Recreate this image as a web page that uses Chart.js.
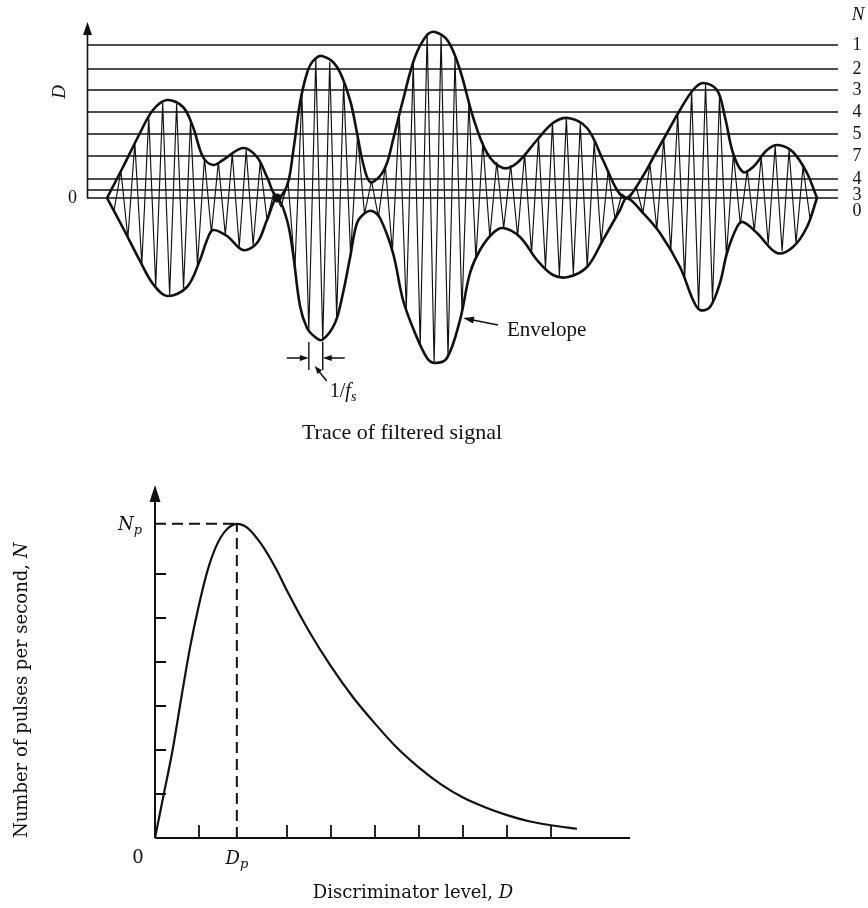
<!DOCTYPE html>
<html>
<head>
<meta charset="utf-8">
<script src="https://cdn.jsdelivr.net/npm/chart.js@4.4.1/dist/chart.umd.min.js"></script>
<style>
  html, body { margin: 0; padding: 0; background: #fff; }
  .wrap { position: absolute; left: 0; width: 868px; }
  #top-wrap { top: 0; height: 460px; }
  #bot-wrap { top: 460px; height: 448px; }
</style>
</head>
<body>
<div class="wrap" id="top-wrap"><canvas id="trace"></canvas></div>
<div class="wrap" id="bot-wrap"><canvas id="pulses"></canvas></div>
<script>
// ---- top: trace of filtered signal (t in carrier half-periods, D arbitrary units)
const T_MIN = -2.874
const T_MAX = 105.03
const D_MIN = -175
const D_MAX = 178
const AXIS_TOP = 176

const levelD = [153, 129, 108, 86, 64, 42, 19, 8, 0]
const levelN = ['1', '2', '3', '4', '5', '7', '4', '3', '0']

// carrier vertices, one per half period, alternating top / bottom of envelope
const carrier = [
  0, -13, 27, -40, 55, -66, 81, -88, 95, -97,
  94, -90, 76, -67, 40, -35, 36, -37, 44, -49,
  48, -47, 35, -22, 6, -9, 17, -70, 103, -132,
  139, -142, 136, -119, 114, -57, 62, -16, 17, -19,
  32, -53, 83, -111, 135, -147, 165, -165, 162, -159,
  140, -113, 96, -61, 56, -39, 36, -30, 33, -38,
  44, -55, 60, -70, 75, -78, 80, -76, 74, -69,
  56, -45, 27, -21, 4, -2, 12, -15, 34, -31,
  59, -53, 84, -81, 106, -110, 114, -103, 100, -58,
  44, -26, 28, -33, 41, -46, 52, -53, 48, -45,
  31, -20, 0
]

const upperT = [0, 2.30, 4.74, 6.61, 8.62, 10.92, 12.36, 13.79, 15.23, 16.67, 19.54, 21.55, 22.99, 24.43,
  25.86, 26.72, 27.73, 28.74, 29.60, 30.89, 33.05, 34.91, 35.92, 36.78, 37.79, 39.22, 40.23, 41.09,
  42.53, 44.25, 45.98, 47.13, 48.99, 50.72, 52.59, 54.60, 56.90, 58.91, 61.78, 64.08, 66.24, 68.97,
  71.26, 73.28, 74.71, 77.01, 78.45, 80.46, 82.33, 84.20, 85.63, 87.64, 88.79, 89.94, 91.38, 92.82,
  94.83, 96.41, 98.56, 100.57, 102.01]
const upperD = [0, 31, 65, 88, 98, 91, 71, 41, 33, 38, 50, 41, 21, 0,
  12, 45, 95, 125, 137, 142, 131, 98, 65, 35, 16, 22, 35, 58,
  98, 141, 163, 166, 157, 128, 81, 45, 30, 35, 58, 75, 80, 70,
  38, 8, 0, 22, 40, 65, 88, 108, 115, 108, 81, 45, 26, 31,
  48, 53, 46, 25, 0]

const lowerT = [0, 2.30, 4.74, 6.61, 8.62, 11.49, 13.36, 14.37, 15.23, 17.24, 19.54, 21.55, 22.99, 24.43,
  25.86, 26.72, 27.73, 28.74, 29.89, 30.89, 32.76, 33.91, 34.91, 35.92, 37.07, 38.07, 39.22, 41.09,
  42.53, 44.25, 45.98, 47.13, 48.85, 50.72, 52.16, 53.59, 55.46, 56.90, 59.34, 61.78, 64.08, 66.24,
  68.97, 71.26, 73.71, 74.71, 77.01, 79.45, 82.33, 84.20, 85.20, 86.64, 88.07, 89.08, 90.52, 91.38,
  93.39, 96.26, 98.56, 100.57, 102.01]
const lowerD = [0, -30, -63, -86, -98, -89, -62, -42, -32, -38, -52, -45, -22, 0,
  -22, -55, -108, -130, -139, -142, -125, -95, -60, -25, -15, -13, -20, -55,
  -102, -135, -160, -165, -160, -122, -75, -52, -35, -30, -39, -62, -77, -79,
  -69, -42, -12, 0, -15, -35, -69, -102, -112, -109, -85, -55, -29, -24,
  -35, -55, -49, -29, 0]

const nodeT = 24.43
const envelopeTipT = 51.15
const envelopeTipD = -120
const sampleMarks = [29, 31]

// ---- bottom: pulse rate versus discriminator level
const curveD = [0, 0.2, 0.4, 0.6, 0.8, 1.0, 1.2, 1.4, 1.6, 1.86, 2.1, 2.4, 2.75, 3.0, 3.5, 4.0, 4.5, 5.0, 5.5, 6.0, 6.5, 7.0, 7.5, 8.0, 8.5, 9.0, 9.59]
const curveN = [0, 1.0, 2.0, 3.2, 4.35, 5.3, 6.1, 6.65, 6.98, 7.14, 7.05, 6.7, 6.12, 5.62, 4.7, 3.9, 3.2, 2.6, 2.05, 1.6, 1.22, 0.92, 0.7, 0.52, 0.38, 0.29, 0.21]
const peakD = 1.86
const peakN = 7.14
const xTicks = [1, 3, 4, 5, 6, 7, 8, 9]
const yTicks = [1, 2, 3, 4, 5, 6]

const ink = '#111'
const SERIF = '"Liberation Serif", "DejaVu Serif", serif'
const SERIF2 = '"DejaVu Serif", "Liberation Serif", serif'

function arrowHead(ctx, x1, y1, x2, y2, len, half) {
  const a = Math.atan2(y2 - y1, x2 - x1)
  ctx.beginPath()
  ctx.moveTo(x2, y2)
  ctx.lineTo(x2 - len * Math.cos(a) + half * Math.sin(a), y2 - len * Math.sin(a) - half * Math.cos(a))
  ctx.lineTo(x2 - len * Math.cos(a) - half * Math.sin(a), y2 - len * Math.sin(a) + half * Math.cos(a))
  ctx.closePath()
  ctx.fill()
}

function subText(ctx, main, sub, x, y, size, align, family) {
  ctx.font = `italic ${size}px ${family}`
  const w1 = ctx.measureText(main).width
  ctx.font = `italic ${Math.round(size * 0.72)}px ${family}`
  const w2 = ctx.measureText(sub).width
  let x0 = x
  if (align === 'center') x0 = x - (w1 + w2) / 2
  if (align === 'right') x0 = x - (w1 + w2)
  ctx.textAlign = 'left'
  ctx.textBaseline = 'alphabetic'
  ctx.font = `italic ${size}px ${family}`
  ctx.fillText(main, x0, y)
  ctx.font = `italic ${Math.round(size * 0.72)}px ${family}`
  ctx.fillText(sub, x0 + w1, y + size * 0.22)
}

const traceDeco = {
  id: 'traceDeco',
  afterDraw(chart) {
    const { ctx, scales: { x, y } } = chart
    ctx.save()
    ctx.strokeStyle = ink
    ctx.fillStyle = ink

    // D axis
    const ax = x.getPixelForValue(T_MIN) + 0.5
    const y0 = y.getPixelForValue(0)
    const yTop = y.getPixelForValue(AXIS_TOP)
    ctx.lineWidth = 1.6
    ctx.beginPath(); ctx.moveTo(ax, y0); ctx.lineTo(ax, yTop + 8); ctx.stroke()
    arrowHead(ctx, ax, y0, ax, yTop, 13, 4.5)

    // N labels on the right
    ctx.font = `18px ${SERIF}`
    ctx.textAlign = 'center'
    ctx.textBaseline = 'middle'
    let prev = -Infinity
    levelD.forEach((d, i) => {
      const py = Math.max(y.getPixelForValue(d), prev + 16)
      prev = py
      ctx.fillText(levelN[i], 857, py)
    })
    ctx.font = `italic 19px ${SERIF}`
    ctx.fillText('N', 858, 15)

    ctx.font = `18px ${SERIF}`
    ctx.textAlign = 'right'
    ctx.fillText('0', 77, y0)

    ctx.save()
    ctx.translate(60, 92)
    ctx.rotate(-Math.PI / 2)
    ctx.font = `italic 19px ${SERIF}`
    ctx.textAlign = 'center'
    ctx.fillText('D', 0, 0)
    ctx.restore()

    // Envelope pointer
    const tx = x.getPixelForValue(envelopeTipT), ty = y.getPixelForValue(envelopeTipD)
    ctx.lineWidth = 1.6
    ctx.beginPath(); ctx.moveTo(tx + 35, ty + 7); ctx.lineTo(tx + 6, ty + 1.2); ctx.stroke()
    arrowHead(ctx, tx + 35, ty + 7, tx, ty, 11, 3.5)
    ctx.font = `21px ${SERIF}`
    ctx.textAlign = 'left'
    ctx.textBaseline = 'middle'
    ctx.fillText('Envelope', tx + 44, ty + 12)

    // 1/fs sample spacing
    const mx1 = x.getPixelForValue(sampleMarks[0]), mx2 = x.getPixelForValue(sampleMarks[1])
    const mTop = y.getPixelForValue(-144), mBot = y.getPixelForValue(-172), mMid = y.getPixelForValue(-160)
    ctx.lineWidth = 1.4
    ctx.beginPath()
    ctx.moveTo(mx1, mTop); ctx.lineTo(mx1, mBot)
    ctx.moveTo(mx2, mTop); ctx.lineTo(mx2, mBot)
    ctx.moveTo(mx1 - 22, mMid); ctx.lineTo(mx1 - 6, mMid)
    ctx.moveTo(mx2 + 22, mMid); ctx.lineTo(mx2 + 6, mMid)
    ctx.stroke()
    arrowHead(ctx, mx1 - 22, mMid, mx1, mMid, 9, 3)
    arrowHead(ctx, mx2 + 22, mMid, mx2, mMid, 9, 3)
    const lx = (mx1 + mx2) / 2
    ctx.beginPath(); ctx.moveTo(lx + 11, mBot + 11); ctx.lineTo(lx + 2, mBot); ctx.stroke()
    arrowHead(ctx, lx + 11, mBot + 11, lx - 1, mBot - 4, 8, 3)
    ctx.font = `20px ${SERIF}`
    ctx.textBaseline = 'alphabetic'
    ctx.textAlign = 'left'
    const one = '1/'
    ctx.fillText(one, lx + 14, mBot + 27)
    const w = ctx.measureText(one).width
    subText(ctx, 'f', 's', lx + 14 + w, mBot + 27, 20, 'left', SERIF)

    ctx.font = `22px ${SERIF}`
    ctx.textAlign = 'center'
    ctx.textBaseline = 'middle'
    ctx.fillText('Trace of filtered signal', 402, 433)
    ctx.restore()
  }
}

const pulseDeco = {
  id: 'pulseDeco',
  afterDraw(chart) {
    const { ctx, scales: { x, y } } = chart
    const ox = x.getPixelForValue(0), oy = y.getPixelForValue(0)
    const xEnd = x.getPixelForValue(x.max), yEnd = y.getPixelForValue(y.max)
    ctx.save()
    ctx.strokeStyle = ink
    ctx.fillStyle = ink
    ctx.lineWidth = 2
    ctx.beginPath()
    ctx.moveTo(ox, oy); ctx.lineTo(xEnd, oy)
    ctx.moveTo(ox, oy); ctx.lineTo(ox, yEnd + 10)
    ctx.stroke()
    arrowHead(ctx, ox, oy, ox, yEnd, 17, 5.5)

    ctx.lineWidth = 1.8
    ctx.beginPath()
    xTicks.forEach(v => { const px = x.getPixelForValue(v); ctx.moveTo(px, oy); ctx.lineTo(px, oy - 13) })
    yTicks.forEach(v => { const py = y.getPixelForValue(v); ctx.moveTo(ox, py); ctx.lineTo(ox + 11, py) })
    ctx.stroke()

    ctx.font = `18px ${SERIF2}`
    ctx.textAlign = 'center'
    ctx.textBaseline = 'middle'
    ctx.fillText('0', ox - 17, oy + 20)
    subText(ctx, 'D', 'p', x.getPixelForValue(peakD), oy + 26, 18, 'center', SERIF2)
    subText(ctx, 'N', 'p', ox - 13, y.getPixelForValue(peakN) + 6, 18, 'right', SERIF2)

    // x title
    ctx.font = `18px ${SERIF2}`
    const title = 'Discriminator level, '
    const tw = ctx.measureText(title).width
    ctx.font = `italic 18px ${SERIF2}`
    const dw = ctx.measureText('D').width
    ctx.textAlign = 'left'
    ctx.textBaseline = 'middle'
    const tx0 = 413 - (tw + dw) / 2
    ctx.font = `18px ${SERIF2}`
    ctx.fillText(title, tx0, 433)
    ctx.font = `italic 18px ${SERIF2}`
    ctx.fillText('D', tx0 + tw, 433)

    // y title
    ctx.save()
    ctx.translate(22, oy)
    ctx.rotate(-Math.PI / 2)
    ctx.font = `18px ${SERIF2}`
    ctx.textAlign = 'left'
    const yt = 'Number of pulses per second, '
    const yw = ctx.measureText(yt).width
    ctx.fillText(yt, 0, 0)
    ctx.font = `italic 18px ${SERIF2}`
    ctx.fillText('N', yw, 0)
    ctx.restore()
    ctx.restore()
  }
}

const line = (data, extra) => Object.assign({
  data, showLine: true, borderColor: ink, backgroundColor: ink,
  pointRadius: 0, borderWidth: 1.3, tension: 0, fill: false
}, extra)

const traceSets = [
  ...levelD.map(d => line([{ x: T_MIN, y: d }, { x: T_MAX, y: d }], { borderWidth: 1.3 })),
  line(carrier.map((v, i) => ({ x: i, y: v })), { borderWidth: 1.15, borderJoinStyle: 'bevel' }),
  line(upperT.map((t, i) => ({ x: t, y: upperD[i] })), { borderWidth: 2.6, tension: 0.35 }),
  line(lowerT.map((t, i) => ({ x: t, y: lowerD[i] })), { borderWidth: 2.6, tension: 0.35 }),
  { data: [{ x: nodeT, y: 0 }], showLine: false, pointRadius: 4.5, pointBackgroundColor: ink, pointBorderWidth: 0 }
]

new Chart(document.getElementById('trace'), {
  type: 'scatter',
  data: { datasets: traceSets },
  options: {
    responsive: true, maintainAspectRatio: false, animation: false, events: [],
    layout: { padding: { left: 87, right: 30, top: 20, bottom: 87 } },
    plugins: { legend: { display: false }, tooltip: { enabled: false } },
    scales: {
      x: { type: 'linear', display: false, min: T_MIN, max: T_MAX },
      y: { type: 'linear', display: false, min: D_MIN, max: D_MAX }
    }
  },
  plugins: [traceDeco]
})

new Chart(document.getElementById('pulses'), {
  type: 'scatter',
  data: {
    datasets: [
      line([{ x: peakD, y: 0 }, { x: peakD, y: peakN }], { borderWidth: 2, borderDash: [11, 6] }),
      line([{ x: 0, y: peakN }, { x: peakD, y: peakN }], { borderWidth: 2, borderDash: [11, 6] }),
      line(curveD.map((d, i) => ({ x: d, y: curveN[i] })), { borderWidth: 2.2, cubicInterpolationMode: 'monotone' })
    ]
  },
  options: {
    responsive: true, maintainAspectRatio: false, animation: false, events: [],
    layout: { padding: { left: 155, right: 238, top: 25, bottom: 70 } },
    plugins: { legend: { display: false }, tooltip: { enabled: false } },
    scales: {
      x: { type: 'linear', display: false, min: 0, max: 10.795 },
      y: { type: 'linear', display: false, min: 0, max: 8.023 }
    }
  },
  plugins: [pulseDeco]
})
</script>
</body>
</html>
